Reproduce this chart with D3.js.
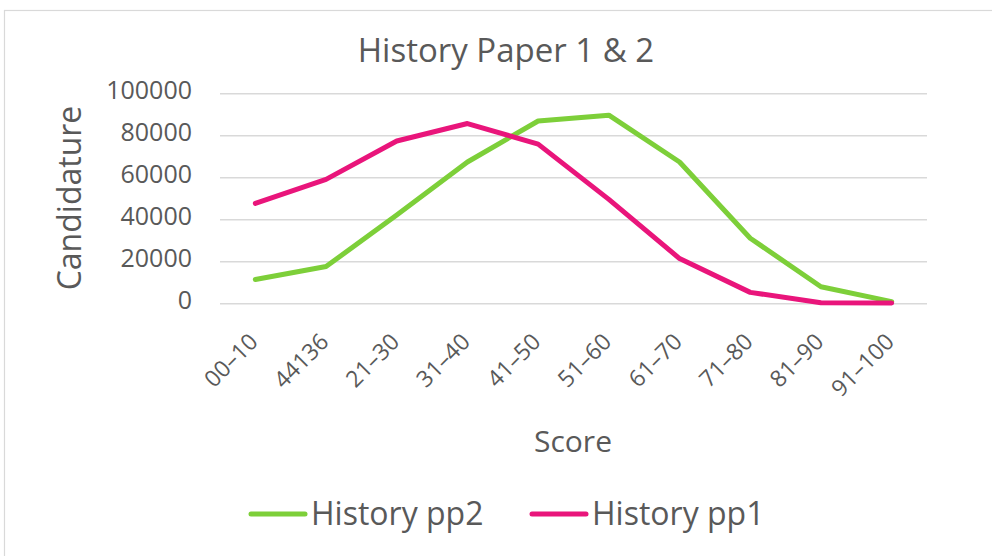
<!DOCTYPE html>
<html>
<head>
<meta charset="utf-8">
<script src="https://cdn.jsdelivr.net/npm/d3@7"></script>
<style>
  body { margin: 0; background: #fff; }
  text { font-family: "Open Sans", sans-serif; fill: #595959; }
</style>
</head>
<body>
<div id="chart"></div>
<script>
// data
var categories = ["00–10", "44136", "21–30", "31–40", "41–50", "51–60", "61–70", "71–80", "81–90", "91–100"];
var pp2 = [11300, 17500, 42000, 67300, 86800, 89600, 67300, 31000, 7900, 800];
var pp1 = [47600, 59000, 77300, 85600, 75800, 49500, 21300, 5200, 300, 200];
var yTicks = [0, 20000, 40000, 60000, 80000, 100000];
var seriesNames = ["History pp2", "History pp1"];
var seriesColors = ["#7dcf39", "#e9157b"];

(function chart(){
  var W = 992, H = 556;
  var margin = {top: 93.3, left: 220, right: 65, bottom: 252.7};
  var width = W - margin.left - margin.right,
      height = H - margin.top - margin.bottom;

  var svg = d3.select("#chart").append("svg")
    .attr("width", W)
    .attr("height", H);

  // chart frame
  svg.append("rect")
    .attr("x", 4.5).attr("y", 10.5)
    .attr("width", W + 10).attr("height", H + 10)
    .style("fill", "none")
    .style("stroke", "#d9d9d9")
    .style("stroke-width", 1.2);

  var g = svg.append("g")
    .attr("transform", "translate(" + margin.left + "," + margin.top + ")");

  var x = d3.scalePoint()
    .domain(categories)
    .range([0, width])
    .padding(0.5);

  var y = d3.scaleLinear()
    .domain([0, 100000])
    .range([height, 0]);

  // y axis + gridlines
  var yAxis = g.append("g")
    .call(d3.axisLeft(y).tickValues(yTicks).tickSize(-width).tickPadding(28).tickFormat(d3.format("d")));
  yAxis.select(".domain").remove();
  yAxis.selectAll(".tick line")
    .style("stroke", "#d9d9d9")
    .style("stroke-width", 1.5);
  yAxis.selectAll(".tick text")
    .attr("dy", "0.2em")
    .style("font-size", "25px")
    .style("font-family", "'Open Sans', sans-serif")
    .style("fill", "#595959");

  // x labels, rotated
  g.selectAll(".xlabel")
    .data(categories)
  .enter().append("text")
    .attr("class", "xlabel")
    .attr("text-anchor", "end")
    .attr("transform", function(d) {
      return "translate(" + (x(d) + 4) + "," + (height + 40) + ") rotate(-45)";
    })
    .style("font-size", "23px")
    .text(function(d) { return d; });

  // lines
  var line = d3.line()
    .x(function(d, i) { return x(categories[i]); })
    .y(function(d) { return y(d); });

  [pp2, pp1].forEach(function(s, i) {
    g.append("path")
      .datum(s)
      .attr("d", line)
      .style("fill", "none")
      .style("stroke", seriesColors[i])
      .style("stroke-width", 5)
      .style("stroke-linejoin", "round")
      .style("stroke-linecap", "round");
  });

  // title
  svg.append("text")
    .attr("x", 506).attr("y", 62)
    .attr("text-anchor", "middle")
    .style("font-size", "33px")
    .text("History Paper 1 & 2");

  // axis titles
  svg.append("text")
    .attr("transform", "translate(81,198) rotate(-90)")
    .attr("text-anchor", "middle")
    .style("font-size", "32px")
    .text("Candidature");

  svg.append("text")
    .attr("x", 573).attr("y", 452)
    .attr("text-anchor", "middle")
    .style("font-size", "30px")
    .text("Score");

  // legend
  var legendX = [250, 531];
  var legend = svg.selectAll(".legend")
    .data(seriesNames)
  .enter().append("g")
    .attr("class", "legend")
    .attr("transform", function(d, i) { return "translate(" + legendX[i] + ",514)"; });
  legend.append("line")
    .attr("x1", 1).attr("x2", 55)
    .style("stroke", function(d, i) { return seriesColors[i]; })
    .style("stroke-width", 5)
    .style("stroke-linecap", "round");
  legend.append("text")
    .attr("x", 61).attr("y", 11)
    .style("font-size", "32px")
    .text(function(d) { return d; });
}());
</script>
</body>
</html>
